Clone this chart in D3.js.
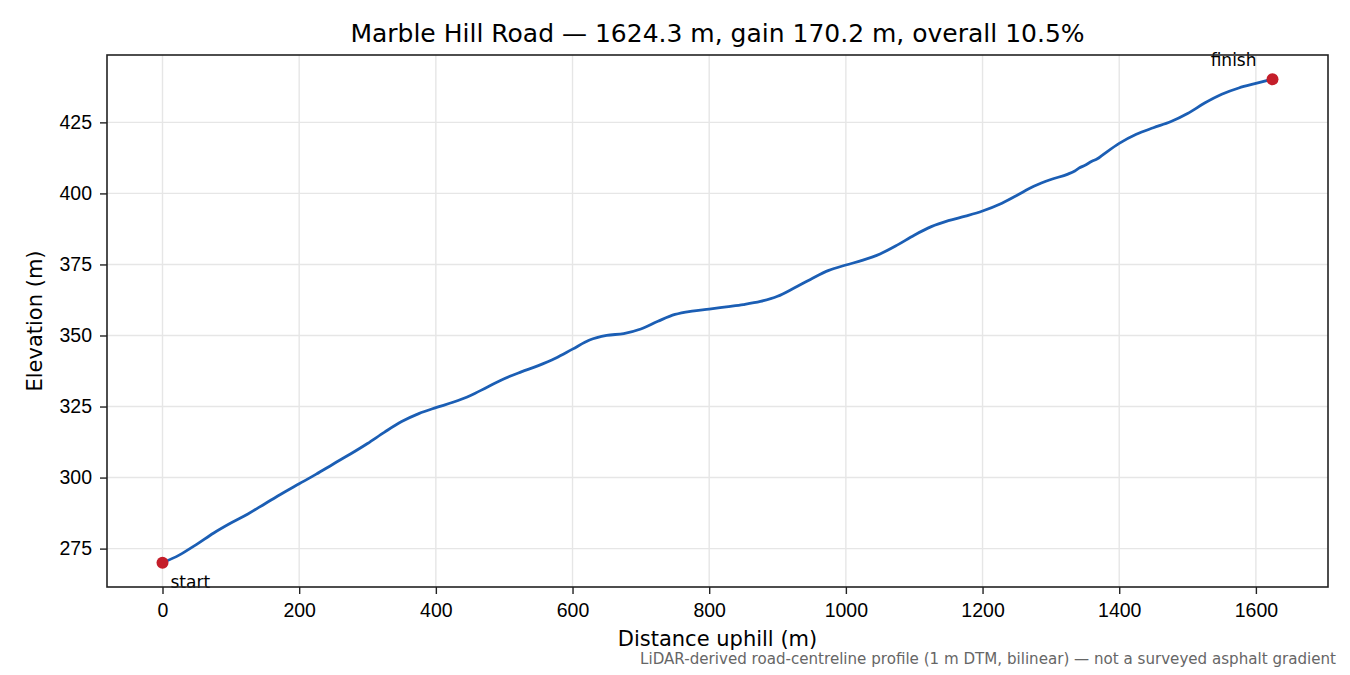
<!DOCTYPE html>
<html lang="en">
<head>
<meta charset="UTF-8">
<title>Marble Hill Road profile</title>
<script src="https://d3js.org/d3.v7.min.js"></script>
<style>
  body { margin: 0; background: #fff; }
  svg { font-family: 'DejaVu Sans', sans-serif; display: block; }
  .grid line { stroke: #e6e6e6; stroke-width: 1.4; }
  .axis path, .axis line { stroke: #222; stroke-width: 1.4; }
</style>
</head>
<body>
<svg id="chart"></svg>
<script>
// distance along road (m) and elevation (m)
const distance = [0, 25, 50, 75, 100, 125, 150, 175, 200, 225, 250, 275, 300, 325, 350, 375,
  400, 425, 450, 475, 500, 525, 550, 575, 600, 625, 650, 675, 700, 725, 750, 775,
  800, 825, 850, 875, 900, 925, 950, 975, 1000, 1025, 1050, 1075, 1100, 1125, 1150, 1175,
  1200, 1225, 1250, 1275, 1300, 1325, 1335, 1342, 1350, 1360, 1368, 1375, 1400, 1425, 1450, 1475,
  1500, 1525, 1550, 1575, 1600, 1624.3];
const elevation = [270.0, 272.8, 276.5, 280.5, 284.0, 287.2, 290.8, 294.4, 297.8, 301.2, 304.8, 308.3, 312.0, 316.0, 319.7, 322.5,
  324.6, 326.5, 328.8, 331.8, 334.8, 337.2, 339.4, 342.0, 345.2, 348.4, 350.0, 350.7, 352.3, 355.0, 357.4, 358.6,
  359.3, 360.1, 360.9, 362.0, 363.8, 366.8, 370.0, 372.9, 374.8, 376.5, 378.7, 381.8, 385.3, 388.3, 390.4, 392.0,
  393.8, 396.2, 399.3, 402.5, 404.9, 406.8, 407.9, 409.0, 409.9, 411.3, 412.2, 413.4, 417.6, 420.8, 423.1, 425.2,
  428.1, 431.8, 434.9, 437.1, 438.7, 440.2];
const endpoints = ["start", "finish"];
const xTicks = [0, 200, 400, 600, 800, 1000, 1200, 1400, 1600];
const yTicks = [275, 300, 325, 350, 375, 400, 425];

const W = 1350, H = 675;
const margin = { top: 55, right: 22, bottom: 88, left: 107 };
const width = W - margin.left - margin.right;
const height = H - margin.top - margin.bottom;

const data = distance.map((d, i) => ({ d: d, e: elevation[i] }));

const svg = d3.select('#chart').attr('width', W).attr('height', H);
const g = svg.append('g').attr('transform', 'translate(' + margin.left + ',' + margin.top + ')');

const dMax = d3.max(distance), eMin = d3.min(elevation), eMax = d3.max(elevation);
const padX = dMax * 0.05, padY = (eMax - eMin) * 0.05;
const x = d3.scaleLinear().domain([0 - padX, dMax + padX]).range([0, width]);
const y = d3.scaleLinear().domain([eMin - padY, eMax + padY]).range([height, 0]);

// grid
g.append('g').attr('class', 'grid')
  .selectAll('line.v').data(xTicks).enter().append('line')
  .attr('x1', d => x(d)).attr('x2', d => x(d)).attr('y1', 0).attr('y2', height);
g.append('g').attr('class', 'grid')
  .selectAll('line.h').data(yTicks).enter().append('line')
  .attr('y1', d => y(d)).attr('y2', d => y(d)).attr('x1', 0).attr('x2', width);

// profile line
const line = d3.line().x(d => x(d.d)).y(d => y(d.e)).curve(d3.curveMonotoneX);
g.append('path').datum(data)
  .attr('fill', 'none').attr('stroke', '#1b5eb4').attr('stroke-width', 2.8)
  .attr('stroke-linejoin', 'round').attr('d', line);

// start / finish markers
const ends = [data[0], data[data.length - 1]];
g.selectAll('circle.end').data(ends).enter().append('circle')
  .attr('cx', d => x(d.d)).attr('cy', d => y(d.e)).attr('r', 6)
  .attr('fill', '#c41e2a');
g.append('text').attr('x', x(ends[0].d) + 8).attr('y', y(ends[0].e) + 25)
  .attr('font-size', 17).text(endpoints[0]);
g.append('text').attr('x', x(ends[1].d) - 16).attr('y', y(ends[1].e) - 13)
  .attr('font-size', 17).attr('text-anchor', 'end').text(endpoints[1]);

// axes
const xAxis = d3.axisBottom(x).tickValues(xTicks).tickSize(7).tickPadding(9).tickFormat(d3.format('d'));
const yAxis = d3.axisLeft(y).tickValues(yTicks).tickSize(7).tickPadding(8).tickFormat(d3.format('d'));
g.append('g').attr('class', 'axis').attr('transform', 'translate(0,' + height + ')').call(xAxis)
  .call(s => s.select('.domain').remove())
  .call(s => s.selectAll('text').attr('font-size', 19.5).attr('fill', '#000'));
g.append('g').attr('class', 'axis').call(yAxis)
  .call(s => s.select('.domain').remove())
  .call(s => s.selectAll('text').attr('font-size', 19.5).attr('fill', '#000'));

// frame
g.append('rect').attr('width', width).attr('height', height)
  .attr('fill', 'none').attr('stroke', '#222').attr('stroke-width', 1.6);

// labels
svg.append('text').attr('x', margin.left + width / 2).attr('y', 42)
  .attr('text-anchor', 'middle').attr('font-size', 25)
  .text('Marble Hill Road \u2014 1624.3 m, gain 170.2 m, overall 10.5%');
svg.append('text').attr('x', margin.left + width / 2).attr('y', 646)
  .attr('text-anchor', 'middle').attr('font-size', 21).text('Distance uphill (m)');
svg.append('text').attr('transform', 'translate(42,' + (margin.top + height / 2) + ') rotate(-90)')
  .attr('text-anchor', 'middle').attr('font-size', 21).text('Elevation (m)');
svg.append('text').attr('x', 1336).attr('y', 664)
  .attr('text-anchor', 'end').attr('font-size', 15.1).attr('fill', '#666')
  .text('LiDAR-derived road-centreline profile (1 m DTM, bilinear) \u2014 not a surveyed asphalt gradient');
</script>
</body>
</html>
